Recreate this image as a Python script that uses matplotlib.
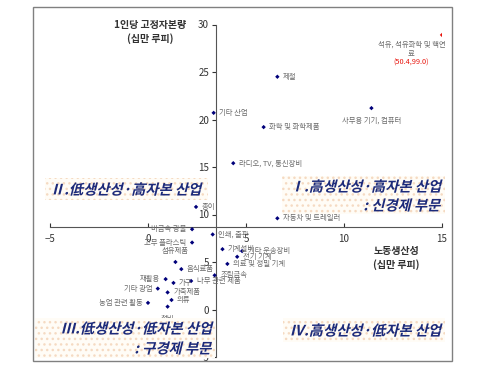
import matplotlib
matplotlib.use("Agg")
import matplotlib.pyplot as plt
from matplotlib.patches import Rectangle, PathPatch
from matplotlib.textpath import TextPath
from matplotlib.font_manager import FontProperties
from matplotlib.transforms import Affine2D, IdentityTransform

plt.rcParams['font.family'] = ['Noto Sans CJK KR', 'DejaVu Sans']

# industries: labor productivity (x), fixed capital per worker (y)
industries = ['석유, 석유화학 및 핵연\n료', '제철', '기타 산업', '사무용 기기, 컴퓨터',
              '화학 및 화학제품', '라디오, TV, 통신장비', '자동차 및 트레일러', '종이',
              '비금속 광물', '인쇄, 출판', '기계설비', '기타 운송장비', '전기 기계',
              '의료 및 정밀 기계', '고무 플라스틱', '섬유제품', '음식료품', '재활용',
              '조립금속', '가구', '나무 관련 제품', '가죽제품', '기타 광업', '의류',
              '농업 관련 활동', '철비']
productivity = [15.0, 6.6, 3.35, 11.4, 5.9, 4.35, 6.6, 2.45, 2.25, 3.3, 3.8, 4.8, 4.55,
                4.05, 2.25, 1.4, 1.7, 0.9, 3.4, 1.3, 2.2, 1.0, 0.5, 1.2, 0.0, 1.0]
capital = [28.9, 24.5, 20.7, 21.2, 19.2, 15.4, 9.6, 10.8, 8.45, 7.9, 6.35, 6.15, 5.55,
           4.8, 7.05, 5.0, 4.25, 3.2, 3.6, 2.8, 3.0, 1.8, 2.2, 1.0, 0.7, 0.3]
label_side = ['below', 'r', 'r', 'below', 'r', 'r', 'r', 'r', 'l', 'r', 'r', 'r', 'r',
              'r', 'l', 'above', 'r', 'l', 'r', 'r', 'r', 'r', 'l', 'r', 'l', 'below']
outlier_text = '(50.4,99.0)'
x_avg = 3.47
y_avg = 8.65

W, H = 480, 365
DPI = 100
fig = plt.figure(figsize=(4.8, 3.65), dpi=DPI)

def fx(px):
    return px / W

def fy(py):
    return 1 - py / H

ax = fig.add_axes([fx(50), fy(357), fx(442) - fx(50), fy(24.5) - fy(357)])
ax.set_xlim(-5, 15)
ax.set_ylim(-5, 30)
ax.patch.set_alpha(0)
for s in ['top', 'right']:
    ax.spines[s].set_visible(False)
ax.spines['left'].set_position(('data', x_avg))
ax.spines['bottom'].set_position(('data', y_avg))
for s in ['left', 'bottom']:
    ax.spines[s].set_color('#555555')
    ax.spines[s].set_linewidth(0.8)
ax.set_xticks([-5, 0, 5, 10, 15])
ax.set_yticks([-5, 0, 5, 10, 15, 20, 25, 30])
ax.tick_params(axis='x', direction='in', length=3, labelsize=7, colors='#333333', pad=5)
ax.tick_params(axis='y', direction='out', length=3, labelsize=7, colors='#333333', pad=2)

colors = ['#e8140c'] + ['#00007a'] * (len(industries) - 1)
ax.scatter(productivity, capital, marker='D', s=5, c=colors, zorder=3, linewidths=0)

offsets = {'r': ((4, 0), 'left', 'center'),
           'l': ((-4, 0), 'right', 'center'),
           'below': ((0, -6), 'center', 'top'),
           'above': ((0, 5), 'center', 'bottom')}
for name, xv, yv, side in zip(industries, productivity, capital, label_side):
    off, ha, va = offsets[side]
    if name.startswith('석유'):
        off, ha = (-22, -4), 'center'
    ax.annotate(name, (xv, yv), xytext=off, textcoords='offset points',
                ha=ha, va=va, fontsize=5.3, color='#6a6a6a', linespacing=1.3)
ax.annotate(outlier_text, (productivity[0], capital[0]), xytext=(-22, -20),
            textcoords='offset points', ha='center', va='center', fontsize=5.3,
            color='#e8140c')

# axis titles
fig.text(fx(150), fy(32), '1인당 고정자본량\n(십만 루피)', ha='center', va='center',
         fontsize=7.2, fontweight='bold', color='#333333', linespacing=1.3)
fig.text(fx(396), fy(258), '노동생산성\n(십만 루피)', ha='center', va='center',
         fontsize=7.2, fontweight='bold', color='#333333', linespacing=1.3)

# quadrant boxes with dotted background
boxes = [(45, 178, 208, 200), (282, 176, 445, 214), (35, 318, 215, 358), (283, 318, 445, 342)]
for x0, y0, x1, y1 in boxes:
    fig.patches.append(Rectangle((fx(x0), fy(y1)), fx(x1) - fx(x0), fy(y0) - fy(y1),
                                 transform=fig.transFigure, facecolor='#fffcf6',
                                 edgecolor='#f5dac2', hatch='...', linewidth=0, zorder=0))

# slanted (italic) bold text for quadrant captions
qfont = FontProperties(family='Noto Sans CJK KR', weight='bold')

def slanted(text, x_px, y_px, ha, size=10.3):
    tp = TextPath((0, 0), text, size=size, prop=qfont)
    ext = tp.get_extents()
    if ha == 'right':
        dx = -ext.x1
    elif ha == 'center':
        dx = -(ext.x0 + ext.x1) / 2
    else:
        dx = -ext.x0
    dy = -(ext.y0 + ext.y1) / 2
    tr = (Affine2D().translate(dx, dy).skew_deg(14, 0).scale(DPI / 72.0)
          .translate(x_px, H - y_px))
    fig.patches.append(PathPatch(tr.transform_path(tp), transform=IdentityTransform(),
                                 facecolor='#1c2a7a', edgecolor='none', zorder=5))

slanted('Ⅱ.低생산성·高자본 산업', 128, 189, 'center')
slanted('Ⅰ.高생산성·高자본 산업', 441, 186, 'right')
slanted(': 신경제 부문', 441, 205, 'right')
slanted('Ⅲ.低생산성·低자본 산업', 212, 328, 'right')
slanted(': 구경제 부문', 212, 348, 'right')
slanted('Ⅳ.高생산성·低자본 산업', 441, 330, 'right')

# outer frame
fig.patches.append(Rectangle((fx(33), fy(361)), fx(452) - fx(33), fy(7) - fy(361),
                             transform=fig.transFigure, fill=False,
                             edgecolor='#808080', linewidth=1.0))

fig.savefig('out.png', dpi=DPI)
